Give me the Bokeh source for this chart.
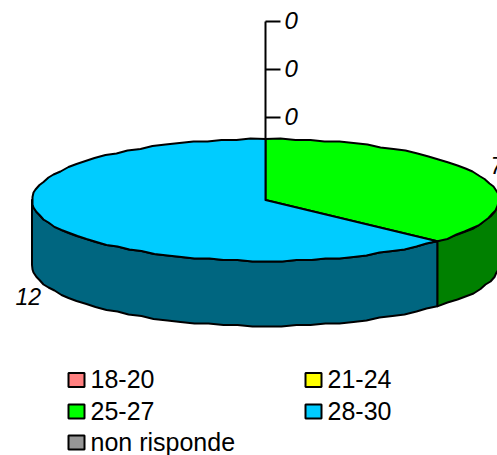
import numpy as np
from bokeh.plotting import figure
from bokeh.embed import file_html
from bokeh.resources import INLINE
from bokeh.core.properties import value

categories = ["18-20", "21-24", "25-27", "28-30", "non risponde"]
values = [0, 0, 7, 12, 0]
top_colors = ["#FF8080", "#FFFF00", "#00FF00", "#00CCFF", "#969696"]
side_colors = ["#804040", "#808000", "#008000", "#006680", "#4B4B4B"]
axis_tick_labels = ["0", "0", "0"]

W, H = 497, 455
CX, CY, RX, RY, DEPTH = 265.0, 199.5, 233.5, 61.0, 65.0
LW = 2
FONT = "Liberation Sans"

p = figure(width=W, height=H, x_range=(0, W), y_range=(H, 0),
           toolbar_location=None, output_backend="svg",
           x_axis_type=None, y_axis_type=None, min_border=0,
           outline_line_color=None, background_fill_color="white")
p.grid.visible = False


def ell(a):
    """a: angle clockwise from top, radians; stepped like the coarse original outline."""
    x = CX + RX * np.sin(a)
    y = CY - RY * np.cos(a)
    return np.round(x), np.round(y / 1.5) * 1.5 + (CY % 1.5)


total = sum(values)
start = 0.0
slices = []
for v, tc, sc in zip(values, top_colors, side_colors):
    end = start + 2 * np.pi * v / total
    if v > 0:
        slices.append((start, end, tc, sc))
    start = end

# side walls (only the visible front half, 90..270 deg)
for s, e, tc, sc in slices:
    a0, a1 = max(s, np.pi / 2), min(e, 3 * np.pi / 2)
    if a1 <= a0:
        continue
    a = np.linspace(a0, a1, max(int((a1 - a0) / np.radians(3.5)), 2))
    x, y = ell(a)
    x = np.r_[CX + RX * np.sin(a0), x[1:-1], CX + RX * np.sin(a1)]
    y = np.r_[CY - RY * np.cos(a0), y[1:-1], CY - RY * np.cos(a1)]
    p.patch(np.r_[x, x[::-1]], np.r_[y, (y + DEPTH)[::-1]], fill_color=sc,
            line_color="black", line_width=LW, line_join="round")

# axis above the pie
tick_ys = [21.0, 69.0, 117.0]
p.segment([CX], [CY - RY], [CX], [tick_ys[0]], line_color="black", line_width=LW)
p.segment([CX] * 3, tick_ys, [CX + 15] * 3, tick_ys, line_color="black", line_width=LW)
p.text([CX + 19] * 3, [t - 1 for t in tick_ys], text=axis_tick_labels, text_font=value(FONT),
       text_font_size="24px", text_font_style="italic", text_color="black",
       text_align="left", text_baseline="middle")

# top face
for s, e, tc, sc in slices:
    a = np.linspace(s, e, max(int((e - s) / np.radians(3.5)), 2))
    x, y = ell(a)
    x = np.r_[CX, CX + RX * np.sin(s), x[1:-1], CX + RX * np.sin(e)]
    y = np.r_[CY, CY - RY * np.cos(s), y[1:-1], CY - RY * np.cos(e)]
    p.patch(x, y, fill_color=tc, line_color="black", line_width=LW, line_join="round")

# slice labels
label_pos = {2: (490, 165), 3: (15, 296)}
for i, (lx, ly) in label_pos.items():
    p.text([lx], [ly], text=[str(values[i])], text_font=value(FONT),
           text_font_size="23px", text_font_style="italic", text_color="black",
           text_align="left", text_baseline="middle")

# legend
col_x = [68.0, 305.0]
row_y = [379.5, 411.0, 442.0]
for i, (c, tc) in enumerate(zip(categories, top_colors)):
    lx = col_x[i % 2]
    ly = row_y[i // 2]
    p.quad(left=[lx], right=[lx + 16], top=[ly - 7], bottom=[ly + 7], fill_color=tc,
           line_color="black", line_width=LW)
    p.text([lx + 22], [ly - 1], text=[c], text_font=value(FONT), text_font_size="25px",
           text_color="black", text_align="left", text_baseline="middle")

open("out.html", "w").write(file_html(p, INLINE))
